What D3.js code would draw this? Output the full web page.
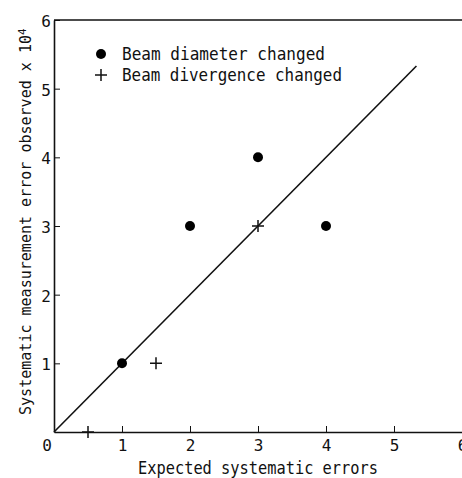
<!DOCTYPE html>
<html>
<head>
<meta charset="utf-8">
<script src="https://cdn.jsdelivr.net/npm/d3@7"></script>
<style>
    body { margin: 0; background: #fff; }
    text { font-family: "DejaVu Sans Mono", monospace; fill: #111; }
</style>
</head>
<body>
<div id="chart"></div>
<script>
// data
const diameterX = [1, 2, 3, 4];
const diameterY = [1, 3, 4, 3];
const divergenceX = [0.5, 1.5, 3];
const divergenceY = [0, 1, 3];
const fitLine = [0, 5.33];
const xTicks = [1, 2, 3, 4, 5, 6];
const yTicks = [1, 2, 3, 4, 5, 6];
const legendLabels = ["Beam diameter changed", "Beam divergence changed"];

const w = 462, h = 478;
const padL = 54, padR = 462, padT = 20, padB = 432;

const svg = d3.select("#chart").append("svg")
    .attr("width", w)
    .attr("height", h);

const x = d3.scaleLinear().domain([0, 6]).range([padL, padR]);
const y = d3.scaleLinear().domain([0, 6]).range([padB, padT]);

// axes - ticks point inwards
const xAxis = svg.append("g")
    .attr("transform", `translate(0, ${padB})`)
    .call(d3.axisBottom(x).tickValues(xTicks).tickSize(-6).tickSizeOuter(0).tickPadding(8).tickFormat(d3.format("d")));
const yAxis = svg.append("g")
    .attr("transform", `translate(${padL}, 0)`)
    .call(d3.axisLeft(y).tickValues(yTicks).tickSize(-6).tickSizeOuter(0).tickPadding(3).tickFormat(d3.format("d")));

[xAxis, yAxis].forEach(g => {
    g.select(".domain").attr("stroke", "#111").attr("stroke-width", 1.6);
    g.selectAll(".tick line").attr("stroke", "#111").attr("stroke-width", 1);
    g.selectAll(".tick text").style("font-size", "16px").attr("fill", "#111");
});
yAxis.selectAll(".tick text").attr("dy", "0.4em");

// top frame line
svg.append("line")
    .attr("x1", x(0)).attr("x2", x(6))
    .attr("y1", y(6)).attr("y2", y(6))
    .attr("stroke", "#111").attr("stroke-width", 1.6);

// origin label
svg.append("text")
    .attr("x", x(0) - 7)
    .attr("y", y(0) + 19)
    .attr("text-anchor", "middle")
    .style("font-size", "16px")
    .text("0");

// fitted line y = x
svg.append("line")
    .attr("x1", x(fitLine[0])).attr("y1", y(fitLine[0]))
    .attr("x2", x(fitLine[1])).attr("y2", y(fitLine[1]))
    .attr("stroke", "#111").attr("stroke-width", 1.6);

// beam diameter points
svg.selectAll("circle.diam")
    .data(diameterX.map((d, i) => [d, diameterY[i]]))
    .enter().append("circle")
    .attr("class", "diam")
    .attr("cx", d => x(d[0]))
    .attr("cy", d => y(d[1]))
    .attr("r", 5)
    .attr("fill", "#000");

// beam divergence crosses
const plus = (g, cx, cy, s) => {
    g.append("path")
        .attr("d", `M${cx - s},${cy}H${cx + s}M${cx},${cy - s}V${cy + s}`)
        .attr("stroke", "#111").attr("stroke-width", 1.5).attr("fill", "none");
};
divergenceX.forEach((d, i) => plus(svg, x(d), y(divergenceY[i]), 6));

// legend
const lg = svg.append("g");
lg.append("circle").attr("cx", 101).attr("cy", 54).attr("r", 5).attr("fill", "#000");
plus(lg, 101, 75, 6);
legendLabels.forEach((t, i) => {
    lg.append("text")
        .attr("x", 122)
        .attr("y", 60 + i * 21)
        .style("font-size", "17px")
        .attr("textLength", i === 0 ? 203 : 220)
        .attr("lengthAdjust", "spacingAndGlyphs")
        .text(t);
});

// axis titles
svg.append("text")
    .attr("x", 138)
    .attr("y", 474)
    .style("font-size", "17px")
    .attr("textLength", 240)
    .attr("lengthAdjust", "spacingAndGlyphs")
    .text("Expected systematic errors");

const yt = svg.append("text")
    .attr("transform", "translate(31, 415) rotate(-90)")
    .style("font-size", "15px");
yt.append("tspan")
    .attr("textLength", 380)
    .attr("lengthAdjust", "spacingAndGlyphs")
    .text("Systematic measurement error observed x 10");
yt.append("tspan").attr("dy", "-0.5em").style("font-size", "11px").text("4");
</script>
</body>
</html>
